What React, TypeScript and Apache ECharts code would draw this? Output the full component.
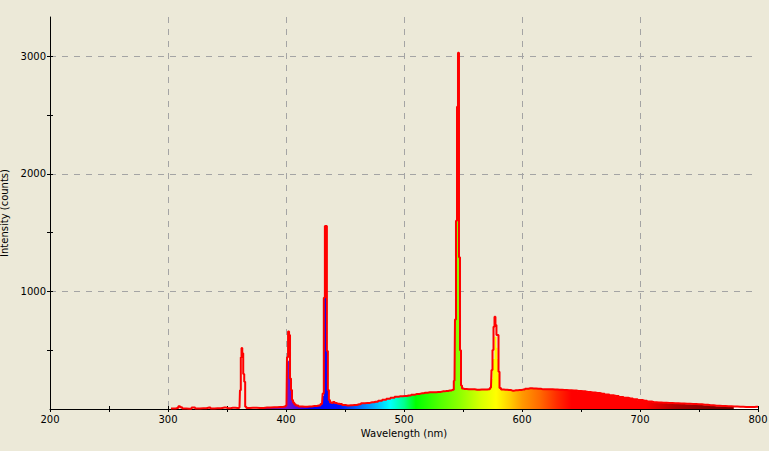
import React, { useEffect, useRef } from "react";
import * as echarts from "echarts";

// Wavelength (nm) sample positions
const wavelengths = [
  200, 250, 300, 305, 308, 309.5, 311, 313, 318, 322, 324, 330, 335, 337, 342, 348, 351, 355, 359,
  360.6, 361.4, 362.0, 362.6, 363.3, 364.2, 365.0, 365.8, 367, 372, 378, 384, 390, 395, 399,
  400.4, 401.3, 402.2, 403.0, 403.8, 404.7, 405.5, 406.4, 407.5, 409, 412, 416, 420, 424, 428,
  430.5, 431.6, 432.5, 433.4, 434.2, 435.1, 435.9, 436.8, 437.7, 439, 440.5, 442, 444, 446, 449,
  452, 455, 458, 462, 465, 469, 473, 476, 480, 483, 487, 490, 494, 497, 501, 504, 508, 511, 515,
  518, 522, 526, 529, 533, 536, 539, 541.6, 542.8, 543.6, 544.5, 545.3, 546.2, 547.0, 547.9,
  548.7, 549.6, 551, 555, 558, 562, 566, 569, 572, 573.7, 574.6, 575.4, 576.3, 577.1, 577.9,
  578.8, 579.7, 580.5, 581.4, 583, 586, 589, 592, 595, 598, 601, 604, 607, 610, 614, 618, 621,
  624, 628, 632, 636, 640, 644, 648, 652, 656, 660, 664, 668, 672, 676, 680, 684, 688, 692, 696,
  700, 704, 708, 712, 716, 720, 725, 730, 735, 740, 745, 750, 755, 760, 765, 770, 775, 780, 785,
  790, 795, 799, 800,
];

// Red outline spectrum (counts)
const outlineCounts = [
  null, null, null, 4, 8, 24, 14, 5, 3, 12, 4, 6, 12, 4, 6, 12, 6, 10, 8,
  12, 160, 440, 518, 475, 297, 232, 20, 8, 10, 8, 12, 14, 16, 22,
  30, 440, 660, 630, 260, 161, 76, 55, 40, 30, 22, 20, 22, 25, 30,
  42, 131, 946, 1555, 1555, 493, 161, 76, 55, 52, 59, 50, 45, 42, 35,
  30, 32, 34, 40, 48, 52, 57, 62, 71, 78, 88, 95, 105, 108, 110, 115, 122, 128, 133,
  138, 142, 143, 144, 150, 153, 158, 164, 240, 760, 1600, 2570, 3030, 1290, 500,
  200, 175, 170, 168, 167, 164, 166, 165, 167, 180, 331, 501, 700, 785, 714,
  630, 630, 317, 178, 166, 164, 161, 156, 160, 161, 165, 172, 176, 174, 172, 167, 168,
  167, 165, 164, 162, 160, 157, 153, 150, 145, 140, 136, 130, 123, 116, 110, 103, 96, 90, 83,
  76, 70, 63, 58, 56, 54, 51, 48, 46, 44, 42, 40, 36, 32, 28, 26, 24, 22, 20,
  18, 17, 20, 20,
];

// Spectrally coloured fill spectrum (counts)
const fillCounts = [
  0, 0, 0, 4, 8, 24, 14, 5, 3, 12, 4, 6, 12, 4, 6, 12, 6, 10, 8,
  12, 160, 440, 518, 475, 297, 232, 20, 8, 10, 8, 12, 14, 16, 20,
  28, 400, 410, 390, 252, 150, 70, 50, 36, 27, 20, 18, 20, 23, 27,
  38, 110, 940, 946, 1323, 490, 155, 70, 50, 48, 55, 46, 42, 39, 33,
  28, 30, 32, 38, 45, 50, 55, 60, 68, 75, 85, 92, 102, 105, 107, 112, 119, 125, 130,
  135, 139, 140, 141, 147, 150, 155, 161, 236, 760, 1600, 2490, 2570, 1290, 495,
  195, 172, 167, 165, 164, 161, 163, 162, 164, 176, 255, 425, 425, 615, 615,
  520, 425, 300, 172, 163, 161, 158, 153, 157, 158, 162, 169, 173, 171, 169, 164, 165,
  164, 162, 161, 159, 157, 154, 150, 147, 142, 137, 133, 127, 120, 113, 107, 100, 93, 87, 80,
  73, 67, 60, 55, 53, 50, 47, 44, 42, 40, 37, 35, 31, 27, 24, 22, 20, 18, 16,
  15, 14, 18, 18,
];

// Spectrum colour stops by wavelength
const spectrumStops: [number, string][] = [
  [200, "rgba(236,233,216,0)"],
  [379, "rgba(236,233,216,0)"],
  [380, "#6400a8"],
  [400, "#7414cc"],
  [412, "#4000f0"],
  [420, "#0000ff"],
  [445, "#0010ff"],
  [460, "#0060ff"],
  [475, "#00b0ff"],
  [488, "#00ffff"],
  [500, "#00ff90"],
  [510, "#00ff00"],
  [530, "#50ff00"],
  [548, "#90ff00"],
  [565, "#d8ff00"],
  [578, "#ffff00"],
  [590, "#ffcc00"],
  [600, "#ff9a00"],
  [615, "#ff6a00"],
  [630, "#ff2a00"],
  [642, "#ff0000"],
  [705, "#ff0000"],
  [730, "#b00000"],
  [760, "#800000"],
  [779, "#700000"],
  [780, "#ffffff"],
  [800, "#ffffff"],
];

const X_MIN = 200;
const X_MAX = 800;
const Y_MAX = 3333;

const FONT = "DejaVu Sans";

export default function App() {
  const ref = useRef<HTMLDivElement>(null);

  useEffect(() => {
    if (!ref.current) return;
    const chart = echarts.init(ref.current, null, { renderer: "svg" });

    const outlineData = wavelengths.map((w, i) => [w, outlineCounts[i]]);
    const fillData = wavelengths.map((w, i) => [w, fillCounts[i]]);

    const gradient = new echarts.graphic.LinearGradient(
      0,
      0,
      1,
      0,
      spectrumStops.map(([w, c]) => ({ offset: (w - X_MIN) / (X_MAX - X_MIN), color: c }))
    );

    const labelStyle = { color: "#000", fontFamily: FONT, fontSize: 10 };
    const gridDash = { color: "#a4a4a4", width: 1, type: [6, 6] as number[] };

    chart.setOption({
      animation: false,
      backgroundColor: "#ECE9D8",
      grid: {
        left: 50,
        right: 11,
        top: 17,
        bottom: 42,
        containLabel: false,
        outerBoundsMode: "none",
      },
      xAxis: [
        {
          type: "value",
          min: X_MIN,
          max: X_MAX,
          interval: 50,
          position: "bottom",
          name: "Wavelength (nm)",
          nameLocation: "middle",
          nameGap: 18,
          nameTextStyle: { color: "#000", fontFamily: FONT, fontSize: 10 },
          axisLine: { show: true, lineStyle: { color: "#000", width: 1 } },
          axisTick: { show: true, inside: false, length: 3, lineStyle: { color: "#000" } },
          axisLabel: {
            ...labelStyle,
            margin: 5,
            formatter: (v: number) => (v % 100 === 0 ? String(v) : ""),
          },
          splitLine: { show: false },
        },
        {
          type: "value",
          min: X_MIN,
          max: X_MAX,
          interval: 100,
          position: "bottom",
          axisLine: { show: false },
          axisTick: { show: false },
          axisLabel: { show: false },
          splitLine: { show: true, showMinLine: false, showMaxLine: false, lineStyle: gridDash },
        },
        {
          type: "value",
          min: X_MIN,
          max: X_MAX,
          interval: 50,
          position: "bottom",
          axisLine: { show: false },
          axisTick: { show: true, inside: true, length: 3, lineStyle: { color: "#000" } },
          axisLabel: { show: false },
          splitLine: { show: false },
        },
      ],
      yAxis: [
        {
          type: "value",
          min: 0,
          max: Y_MAX,
          interval: 500,
          position: "left",
          name: "Intensity (counts)",
          nameLocation: "middle",
          nameGap: 28,
          nameRotate: 90,
          nameTextStyle: { color: "#000", fontFamily: FONT, fontSize: 10 },
          axisLine: { show: true, lineStyle: { color: "#000", width: 1 } },
          axisTick: {
            show: true,
            inside: false,
            length: 3,
            lineStyle: { color: "#000" },
            customValues: [500, 1000, 1500, 2000, 2500, 3000],
          },
          axisLabel: {
            ...labelStyle,
            margin: 4,
            customValues: [1000, 2000, 3000],
            formatter: (v: number) => (v > 0 && v <= 3000 && v % 1000 === 0 ? String(v) : ""),
          },
          splitLine: { show: false },
        },
        {
          type: "value",
          min: 0,
          max: Y_MAX,
          interval: 1000,
          position: "left",
          axisLine: { show: false },
          axisTick: { show: false },
          axisLabel: { show: false },
          splitLine: { show: true, showMinLine: false, showMaxLine: false, lineStyle: gridDash },
        },
        {
          type: "value",
          min: 0,
          max: Y_MAX,
          interval: 500,
          position: "left",
          axisLine: { show: false },
          axisTick: {
            show: true,
            inside: true,
            length: 3,
            lineStyle: { color: "#000" },
            customValues: [500, 1000, 1500, 2000, 2500, 3000],
          },
          axisLabel: { show: false },
          splitLine: { show: false },
        },
      ],
      series: [
        {
          name: "Spectrum fill",
          type: "line",
          xAxisIndex: 0,
          yAxisIndex: 0,
          step: "middle",
          data: fillData,
          showSymbol: false,
          symbol: "none",
          lineStyle: { width: 0, opacity: 0 },
          areaStyle: { color: gradient, opacity: 1 },
          silent: true,
          z: 2,
        },
        {
          name: "Outline",
          type: "line",
          xAxisIndex: 0,
          yAxisIndex: 0,
          step: "middle",
          data: outlineData,
          showSymbol: false,
          symbol: "none",
          lineStyle: { color: "#ff0000", width: 2 },
          silent: true,
          z: 3,
        },
      ],
    });

    return () => chart.dispose();
  }, []);

  return (
    <div
      ref={ref}
      style={{ position: "absolute", left: 0, top: 0, width: 769, height: 451 }}
    />
  );
}
